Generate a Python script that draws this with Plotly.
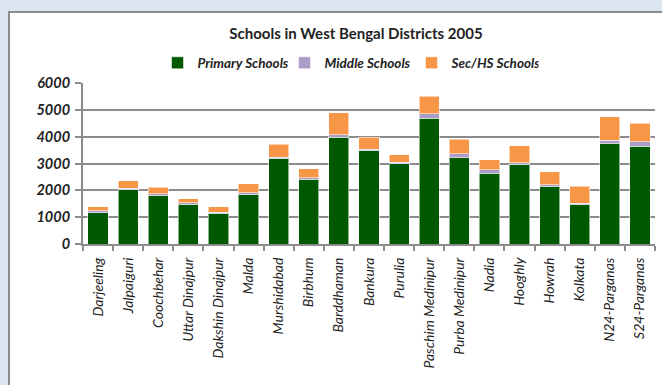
import plotly.graph_objects as go

districts = ["Darjeeling", "Jalpaiguri", "Coochbehar", "Uttar Dinajpur", "Dakshin Dinajpur",
             "Malda", "Murshidabad", "Birbhum", "Barddhaman", "Bankura", "Purulia",
             "Paschim Medinipur", "Purba Medinipur", "Nadia", "Hooghly", "Howrah",
             "Kolkata", "N24-Parganas", "S24-Parganas"]
primary = [1170, 2030, 1820, 1480, 1140, 1860, 3170, 2410, 3970, 3480, 2990,
           4690, 3220, 2630, 2970, 2160, 1470, 3760, 3650]
middle = [75, 55, 60, 50, 50, 50, 65, 60, 100, 50, 50,
          160, 150, 130, 60, 50, 50, 115, 160]
sec_hs = [135, 275, 230, 150, 190, 340, 490, 330, 820, 440, 290,
          650, 540, 380, 640, 490, 640, 865, 690]
y_ticks = [0, 1000, 2000, 3000, 4000, 5000, 6000]

FONT = "Lato"
outline = dict(color="rgba(255,255,255,0.55)", width=1)

fig = go.Figure()
fig.add_trace(go.Bar(name="Primary Schools", x=districts, y=primary,
                     marker=dict(color="#005800", line=outline)))
fig.add_trace(go.Bar(name="Middle Schools", x=districts, y=middle,
                     marker=dict(color="#ab9dc8", line=outline)))
fig.add_trace(go.Bar(name="Sec/HS Schools", x=districts, y=sec_hs,
                     marker=dict(color="#f79646", line=outline)))

# plot area: x 83..655, y 83..244 (px)
L, R, T, B = 83, 655, 83, 244
W, H = R - L, B - T
def px_x(p):
    return (p - L) / W
def px_y(p):
    return (B - p) / H

fig.add_shape(type="rect", xref="paper", yref="paper", layer="below",
              x0=px_x(9), x1=px_x(700), y0=px_y(420), y1=px_y(12),
              fillcolor="white", line=dict(color="#8c8c8c", width=2))

fig.update_layout(
    barmode="stack",
    bargap=0.33,
    width=662, height=385,
    margin=dict(l=L, r=662 - R, t=T, b=385 - B),
    paper_bgcolor="#dce6f1",
    plot_bgcolor="white",
    title=dict(text="<b>Schools in West Bengal Districts 2005</b>",
               x=356 / 662, xanchor="center", y=1 - 34 / 385, yanchor="middle",
               font=dict(family=FONT, size=15, color="#222222")),
    legend=dict(orientation="h", x=px_x(348), xanchor="center",
                y=px_y(63), yanchor="middle",
                font=dict(family=FONT, size=13.5, color="#222222", style="italic", weight="bold"),
                traceorder="normal", itemwidth=30, entrywidth=82,
                bgcolor="rgba(0,0,0,0)"),
    showlegend=True,
    xaxis=dict(type="category", tickangle=-90, tickson="boundaries",
               ticks="outside", ticklen=5, tickcolor="#8c8c8c", tickwidth=2,
               showline=True, linecolor="#8c8c8c", linewidth=2,
               ticklabelstandoff=6,
               tickfont=dict(family=FONT, size=14, color="#222222", style="italic"),
               showgrid=False),
    yaxis=dict(range=[0, 6000], tickvals=y_ticks, ticks="outside", ticklen=6,
               tickcolor="#8c8c8c", tickwidth=2,
               showline=True, linecolor="#8c8c8c", linewidth=2,
               showgrid=True, gridcolor="#8c8c8c", gridwidth=2,
               zeroline=False, ticklabelstandoff=2,
               tickfont=dict(family=FONT, size=14.5, color="#222222", style="italic", weight="bold")),
)

fig.write_html("out.html", config={"displayModeBar": False},
               post_script="document.body.style.margin='0';document.body.style.overflow='hidden';")
